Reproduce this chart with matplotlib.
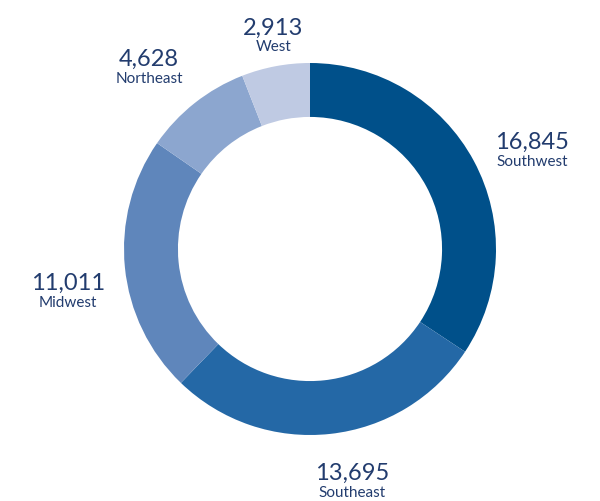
import numpy as np
import matplotlib
matplotlib.use('Agg')
import matplotlib.pyplot as plt

plt.rcParams['font.family'] = ['Lato', 'DejaVu Sans']

regions = ['Southwest', 'Southeast', 'Midwest', 'Northeast', 'West']
counts = [16845, 13695, 11011, 4628, 2913]
colors = ['#00508A', '#2468A6', '#5F86BB', '#8CA6CF', '#BFCAE3']
text_color = '#223C6E'

fig = plt.figure(figsize=(6, 5.01), dpi=100)
ax = fig.add_axes([0, 0, 1, 1])
ax.set_xlim(0, 600)
ax.set_ylim(0, 501)
ax.set_aspect('equal')
ax.axis('off')

cx, cy, R = 310, 252, 186
wedges, _ = ax.pie(counts, colors=colors, startangle=90, counterclock=False,
                   center=(cx, cy), radius=R,
                   wedgeprops=dict(width=R * 0.29, edgecolor='none'))
ax.set_xlim(0, 600)
ax.set_ylim(0, 501)

# distance of label from centre, relative to outer radius
label_r = [1.31, 1.26, 1.32, 1.31, 1.17]
label_shift = [-4, 4, 4, 3, -1]  # degrees
for w, name, n, lr, sh in zip(wedges, regions, counts, label_r, label_shift):
    ang = np.deg2rad((w.theta1 + w.theta2) / 2 + sh)
    x = cx + lr * R * np.cos(ang)
    y = cy + lr * R * np.sin(ang) - 6
    ax.text(x, y + 2, f'{n:,}', ha='center', va='bottom', fontsize=17, color=text_color)
    ax.text(x, y, name, ha='center', va='top', fontsize=11, color=text_color)

fig.savefig('out.png', dpi=100)
